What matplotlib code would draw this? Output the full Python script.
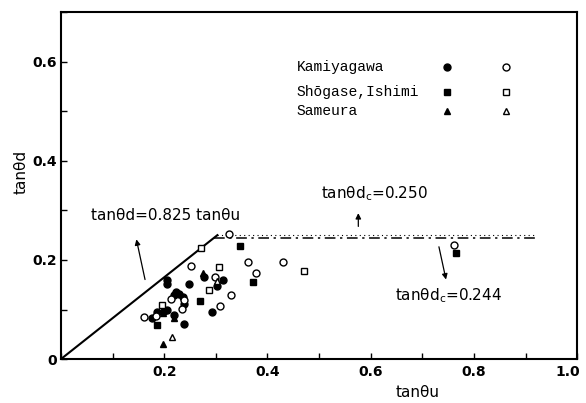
import matplotlib.pyplot as plt
from matplotlib.ticker import MultipleLocator, FuncFormatter
from matplotlib.transforms import ScaledTranslation

plt.rcParams["font.family"] = ["DejaVu Sans"]

# 係数と限界値
slope = 0.825
tan_dc_upper = 0.250
tan_dc_lower = 0.244
line_end = 0.92

# Kamiyagawa
kami_fill_x = [0.206, 0.206, 0.248, 0.277, 0.313, 0.303, 0.293, 0.222, 0.228, 0.236,
               0.219, 0.239, 0.206, 0.200, 0.219, 0.186, 0.177, 0.239]
kami_fill_y = [0.160, 0.152, 0.152, 0.166, 0.160, 0.148, 0.094, 0.135, 0.132, 0.125,
               0.129, 0.112, 0.099, 0.096, 0.089, 0.095, 0.082, 0.070]
kami_open_x = [0.326, 0.251, 0.362, 0.298, 0.330, 0.309, 0.213, 0.239, 0.235, 0.160,
               0.184, 0.377, 0.430, 0.761]
kami_open_y = [0.253, 0.187, 0.196, 0.166, 0.129, 0.107, 0.122, 0.119, 0.102, 0.084,
               0.087, 0.174, 0.195, 0.231]

# Shōgase, Ishimi
shog_fill_x = [0.347, 0.269, 0.187, 0.372, 0.766]
shog_fill_y = [0.229, 0.117, 0.068, 0.156, 0.213]
shog_open_x = [0.271, 0.306, 0.287, 0.195, 0.470]
shog_open_y = [0.224, 0.186, 0.140, 0.109, 0.178]

# Sameura
same_fill_x = [0.276, 0.197, 0.219, 0.198]
same_fill_y = [0.174, 0.092, 0.082, 0.030]
same_open_x = [0.302, 0.216]
same_open_y = [0.158, 0.044]

series = [
    ("Kamiyagawa", "o", kami_fill_x, kami_fill_y, kami_open_x, kami_open_y),
    ("Shōgase,Ishimi", "s", shog_fill_x, shog_fill_y, shog_open_x, shog_open_y),
    ("Sameura", "^", same_fill_x, same_fill_y, same_open_x, same_open_y),
]
marker_size = {"o": 5.0, "s": 4.6, "^": 5.0}
x_max = 1.0


def fmt_y(v, pos):
    if abs(v) < 1e-9:
        return "0"
    return f"{v:.1f}"


def fmt_x(v, pos):
    # 0 は y 軸側、右端は別に描く
    if abs(v) < 1e-9 or abs(v - x_max) < 1e-9:
        return ""
    return f"{v:.1f}"


fig = plt.figure(figsize=(5.86, 4.03), dpi=100)
ax = fig.add_axes([0.104, 0.109, 0.881, 0.861])

# 基準線
x_up = tan_dc_upper / slope
x_low = tan_dc_lower / slope
ax.plot([0, x_up], [0, slope * x_up], color="black", lw=1.5)
ax.plot([x_up, line_end], [tan_dc_upper, tan_dc_upper], color="black", lw=0.8,
        linestyle=(0, (1, 3)))
ax.plot([x_low, line_end], [tan_dc_lower, tan_dc_lower], color="black", lw=1.1,
        linestyle=(0, (7, 3, 1.5, 3)))

# データ点
for name, m, fx, fy, ox, oy in series:
    ms = marker_size[m]
    ax.plot(fx, fy, m, color="black", ms=ms, ls="none")
    ax.plot(ox, oy, m, mfc="white", mec="black", mew=1.0, ms=ms, ls="none")

# 凡例（手書き配置）
legend_rows = [0.841, 0.769, 0.715]
for (name, m, *_), fy in zip(series, legend_rows):
    ms = marker_size[m]
    ax.text(0.457, fy, name, transform=ax.transAxes, fontsize=10.5,
            family="Liberation Mono", va="center", ha="left")
    ax.plot([0.748], [fy], m, color="black", ms=ms, transform=ax.transAxes)
    ax.plot([0.862], [fy], m, mfc="white", mec="black", mew=1.0, ms=ms,
            transform=ax.transAxes)

# 注記
ax.text(0.058, 0.29, "tanθd=0.825 tanθu", fontsize=11, va="center", ha="left")
ax.annotate("", xy=(0.145, 0.247), xytext=(0.164, 0.155),
            arrowprops=dict(arrowstyle="-|>", color="black", lw=0.9,
                            mutation_scale=8))
ax.text(0.503, 0.334, f"tanθd$_\\mathregular{{c}}$={tan_dc_upper:.3f}", fontsize=11,
        va="center", ha="left")
ax.annotate("", xy=(0.576, 0.300), xytext=(0.576, tan_dc_upper + 0.012),
            arrowprops=dict(arrowstyle="-|>", color="black", lw=0.9,
                            mutation_scale=8))
ax.text(0.648, 0.127, f"tanθd$_\\mathregular{{c}}$={tan_dc_lower:.3f}", fontsize=11,
        va="center", ha="left")
ax.annotate("", xy=(0.747, 0.155), xytext=(0.731, tan_dc_lower - 0.012),
            arrowprops=dict(arrowstyle="-|>", color="black", lw=0.9,
                            mutation_scale=8))

# 軸
ax.set_xlim(0, x_max)
ax.set_ylim(0, 0.7)
ax.xaxis.set_major_locator(MultipleLocator(0.2))
ax.xaxis.set_minor_locator(MultipleLocator(0.1))
ax.yaxis.set_major_locator(MultipleLocator(0.2))
ax.yaxis.set_minor_locator(MultipleLocator(0.1))
ax.xaxis.set_major_formatter(FuncFormatter(fmt_x))
ax.yaxis.set_major_formatter(FuncFormatter(fmt_y))
ax.tick_params(which="both", direction="in", length=4, width=1.0, pad=3,
               labelsize=10)
ax.tick_params(axis="x", pad=4)
for lab in ax.get_xticklabels() + ax.get_yticklabels():
    lab.set_fontweight("bold")

# 右端の 1.0 は少し内側へ寄せて描く
shift = ScaledTranslation(-7 / 72, -4 / 72, fig.dpi_scale_trans)
ax.text(x_max, 0, f"{x_max:.1f}", transform=ax.get_xaxis_transform() + shift,
        fontsize=10, fontweight="bold", ha="center", va="top")

for sp in ax.spines.values():
    sp.set_linewidth(1.5)

ax.set_xlabel("tanθu", fontsize=11)
ax.xaxis.set_label_coords(0.69, -0.075)
ax.set_ylabel("tanθd", fontsize=11)
ax.yaxis.set_label_coords(-0.063, 0.54)

fig.savefig("out.png", dpi=100)
